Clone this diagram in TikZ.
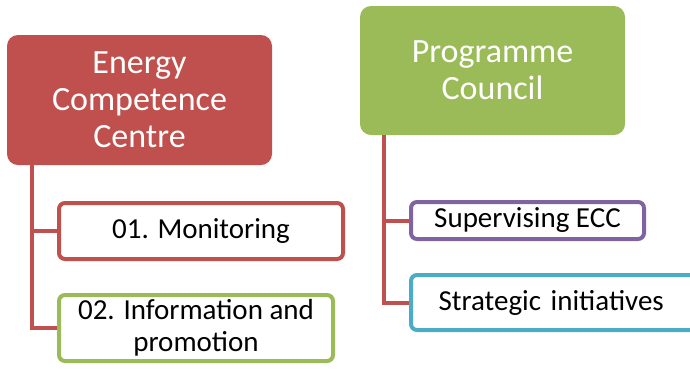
\documentclass[tikz,border=0pt]{standalone}
\usepackage{fontspec}
\setmainfont{Carlito}
\usetikzlibrary{calc}
\definecolor{cred}{HTML}{C0504D}
\definecolor{cgreen}{HTML}{9BBB59}
\definecolor{cpurple}{HTML}{8064A2}
\definecolor{cblue}{HTML}{4BACC6}
\tikzset{
  head/.style={fill=#1, draw=none, rounded corners=11pt, text=white, align=center,
    font=\fontsize{34}{37}\selectfont, inner sep=0pt},
  child/.style={draw=#1, fill=white, line width=4pt, rounded corners=6pt, text=black,
    align=center, font=\fontsize{29}{32}\selectfont, inner sep=0pt},
  conn/.style={draw=cred, line width=4pt}
}
\begin{document}
\begin{tikzpicture}[x=1pt,y=-1pt]
\useasboundingbox (0,0) rectangle (690,368);
\node[head=cred, minimum width=265pt, minimum height=130pt] (ecc) at (139.5,100) {Energy\\Competence\\Centre};
\node[head=cgreen, minimum width=265pt, minimum height=129pt] (pc) at (492.5,70.5) {Programme\\Council};
\node[child=cred, minimum width=284pt, minimum height=56pt] (mon) at (201,231) {01. Monitoring};
\node[child=cgreen, minimum width=274pt, minimum height=66pt] (info) at (196,328) {02. Information and\\promotion};
\node[child=cpurple, minimum width=233pt, minimum height=37pt] (sup) at (527.5,220.5) {Supervising ECC};
\node[child=cblue, minimum width=309pt, minimum height=55pt, text width=260pt, align=left] (str) at (565.5,302.5) {\hspace*{3pt}Strategic initiatives};
\coordinate (ecct) at ($(ecc.south west)+(25,0)$);
\coordinate (pct) at ($(pc.south west)+(24,0)$);
\draw[conn] (ecct) |- (mon.west);
\draw[conn] (ecct) |- (info.west);
\draw[conn] (pct) |- (sup.west);
\draw[conn] (pct) |- (str.west);
\end{tikzpicture}
\end{document}
